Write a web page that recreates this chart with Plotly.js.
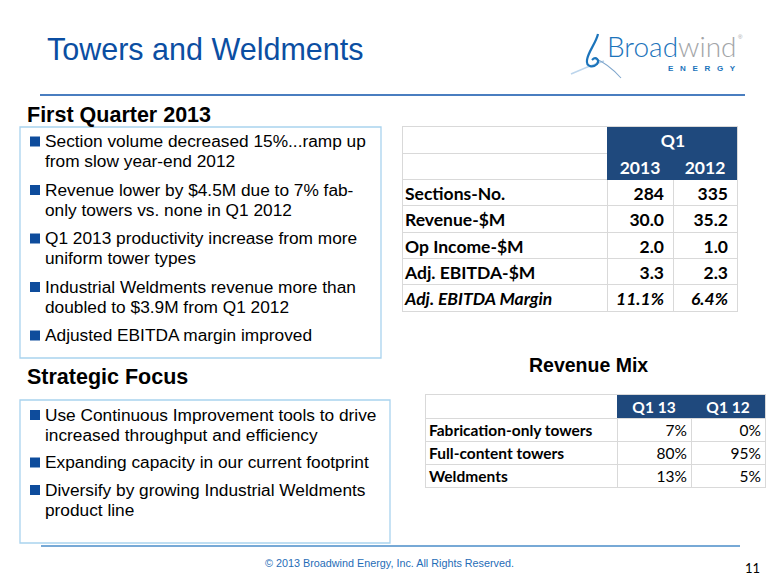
<!DOCTYPE html>
<html><head><meta charset="utf-8">
<script src="https://cdn.plot.ly/plotly-3.0.1.min.js"></script>
<style>html,body{margin:0;padding:0;background:#fff;overflow:hidden}</style>
</head><body><div id="chart" style="width:780px;height:585px"></div>
<script>
// ---------- content ----------
const slideTitle = "Towers and Weldments";
const q1Heading = "First Quarter 2013";
const q1Bullets = [
  ["Section volume decreased 15%...ramp up", "from slow year-end 2012"],
  ["Revenue lower by $4.5M due to 7% fab-", "only towers vs. none in Q1 2012"],
  ["Q1 2013 productivity increase from more", "uniform tower types"],
  ["Industrial Weldments revenue more than", "doubled to $3.9M from Q1 2012"],
  ["Adjusted EBITDA margin improved"]
];
const focusHeading = "Strategic Focus";
const focusBullets = [
  ["Use Continuous Improvement tools to drive", "increased throughput and efficiency"],
  ["Expanding capacity in our current footprint"],
  ["Diversify by growing Industrial Weldments", "product line"]
];
const kpiPeriod = "Q1";
const kpiYears = ["2013", "2012"];
const kpiMetrics = ["Sections-No.", "Revenue-$M", "Op Income-$M", "Adj. EBITDA-$M", "Adj. EBITDA Margin"];
const kpi2013 = ["284", "30.0", "2.0", "3.3", "11.1%"];
const kpi2012 = ["335", "35.2", "1.0", "2.3", "6.4%"];
const mixTitle = "Revenue Mix";
const mixPeriods = ["Q1 13", "Q1 12"];
const mixCategories = ["Fabrication-only towers", "Full-content towers", "Weldments"];
const mixQ113 = [7, 80, 13];
const mixQ112 = [0, 95, 5];
const footerText = "\u00A9 2013 Broadwind Energy, Inc. All Rights Reserved.";
const pageNumber = "11";

// ---------- helpers ----------
const W = 780, H = 585;
const X = x => x / W;
const Y = y => 1 - y / H;
const NAVY = "#1F497D";
const GRID = "#D9D9D9";
const BLUE = "#0B4EA2";
const BOXC = "#A9D3EE";
const ARIAL = "Liberation Sans, Arial, sans-serif";
const CAL = "Lato, Calibri, sans-serif";

const annotations = [];
const shapes = [];
function txt(text, x, y, size, color, opts) {
  annotations.push(Object.assign({
    text: text, x: X(x), y: Y(y), xref: "paper", yref: "paper",
    xanchor: "left", yanchor: "middle", showarrow: false,
    font: {family: ARIAL, size: size, color: color}
  }, opts || {}));
}
function bullets(list, firstBaseline, inner, outer, fs) {
  let b = firstBaseline;
  list.forEach((lines) => {
    shapes.push({type: "rect", xref: "paper", yref: "paper",
      x0: X(30), x1: X(40), y0: Y(b - 11), y1: Y(b - 1),
      fillcolor: "#0E4C9C", line: {width: 0}});
    lines.forEach((ln, j) => {
      txt(ln, 43, b - 0.35 * fs, fs, "#000");
      if (j < lines.length - 1) b += inner;
    });
    b += outer;
  });
}

// title & rules
txt(slideTitle, 45, 49, 30.5, BLUE);
shapes.push({type: "line", xref: "paper", yref: "paper", x0: X(40), x1: X(745), y0: Y(95), y1: Y(95),
  line: {color: "#4A7EC0", width: 2}});
shapes.push({type: "line", xref: "paper", yref: "paper", x0: X(41), x1: X(740), y0: Y(546), y1: Y(546),
  line: {color: "#4A8CC8", width: 1.5}});

// logo
function pth(p) {
  return p.replace(/(-?\d+\.?\d*),(-?\d+\.?\d*)/g, (m, a, b) => X(+a).toFixed(5) + "," + Y(+b).toFixed(5));
}
shapes.push({type: "path", xref: "paper", yref: "paper",
  path: pth("M 571,74 C 582,69 592,65 604,61"), line: {color: "#BCD5EC", width: 1.5}});
shapes.push({type: "path", xref: "paper", yref: "paper",
  path: pth("M 594,58 C 604,62 613,69 621,78"), line: {color: "#7FA6CC", width: 1.1}});
shapes.push({type: "path", xref: "paper", yref: "paper",
  path: pth("M 598,34 C 596,43 588,52 587,60 C 586,67 593,68 597,64 C 600,60 596,56 592,60"),
  line: {color: "#1C74BB", width: 2.2}});
txt("<span style='color:#1C74BB'>Broad</span><span style='color:#A3A5A8'>wind</span>", 605, 46, 28, "#1C74BB",
  {font: {family: "Lato, Open Sans, sans-serif", size: 28, weight: 300, color: "#1C74BB"}});
txt("\u00AE", 736, 37, 6, "#A3A5A8");
txt("E\u00A0\u00A0\u00A0N\u00A0\u00A0\u00A0E\u00A0\u00A0\u00A0R\u00A0\u00A0\u00A0G\u00A0\u00A0\u00A0Y", 666, 68, 8, "#1C74BB",
  {font: {family: ARIAL, size: 8, weight: "bold", color: "#1C74BB"}});

// headings and boxes
txt("<b>" + q1Heading + "</b>", 25, 115, 21.5, "#000");
shapes.push({type: "rect", xref: "paper", yref: "paper", x0: X(20), x1: X(381), y0: Y(127), y1: Y(358),
  line: {color: BOXC, width: 1.3}});
bullets(q1Bullets, 147.5, 20, 28.5, 17.3);

txt("<b>" + focusHeading + "</b>", 25, 377, 21.5, "#000");
shapes.push({type: "rect", xref: "paper", yref: "paper", x0: X(20), x1: X(390), y0: Y(400), y1: Y(543),
  line: {color: BOXC, width: 1.3}});
bullets(focusBullets, 421, 20, 27.5, 17.3);

txt("<b>" + mixTitle + "</b>", 588, 364.5, 19.5, "#000", {xanchor: "center"});
txt(footerText, 389, 563, 10.8, "#1F6DB7", {xanchor: "center"});
txt(pageNumber, 752, 568, 13, "#000", {xanchor: "center", font: {family: CAL, size: 13, color: "#000"}});

// ---------- tables drawn on hidden cartesian axes ----------
const traces = [];
function gridTable(ax, edges, headRows, bodyRows, headFill) {
  const nRows = headRows + bodyRows;
  const z = [];
  for (let r = 0; r < nRows; r++) {
    const row = [];
    for (let c = 0; c < edges.length - 1; c++) row.push(r < headRows && headFill[c] ? 1 : null);
    z.push(row);
  }
  traces.push({type: "heatmap", x: edges, y: Array.from({length: nRows + 1}, (_, i) => i), z: z,
    colorscale: [[0, NAVY], [1, NAVY]], zmin: 0, zmax: 1, showscale: false, hoverinfo: "skip",
    xaxis: "x" + ax, yaxis: "y" + ax});
  return nRows;
}
function textCol(ax, xs, ys, texts, pos, size, color) {
  traces.push({type: "scatter", mode: "text", x: xs, y: ys, text: texts, textposition: pos,
    textfont: {family: CAL, size: size, color: color}, cliponaxis: false, hoverinfo: "skip",
    xaxis: "x" + ax, yaxis: "y" + ax});
}
const MID = 0.61; // vertical text position inside a row

// KPI table
const kpiEdges = [0, 204, 270, 334];
const kpiHead = 2;
const kpiRowsN = gridTable("", kpiEdges, kpiHead, kpiMetrics.length, [false, true, true]);
const kpiFmt = (v, i) => i === kpiMetrics.length - 1 ? "<b><i>" + v + "</i></b>" : "<b>" + v + "</b>";
const kpiY = kpiMetrics.map((_, i) => kpiHead + i + MID);
textCol("", [kpiEdges[2]], [MID], ["<b>" + kpiPeriod + "</b>"], "middle center", 17.5, "#fff");
textCol("", [(kpiEdges[1] + kpiEdges[2]) / 2, (kpiEdges[2] + kpiEdges[3]) / 2], [1 + MID, 1 + MID],
  kpiYears.map(y => "<b>" + y + "</b>"), "middle center", 17.5, "#fff");
textCol("", kpiMetrics.map(() => kpiEdges[0] + 2), kpiY, kpiMetrics.map(kpiFmt), "middle right", 17.5, "#000");
textCol("", kpi2013.map(() => kpiEdges[2] - 9), kpiY, kpi2013.map(kpiFmt), "middle left", 17.5, "#000");
textCol("", kpi2012.map(() => kpiEdges[3] - 9), kpiY, kpi2012.map(kpiFmt), "middle left", 17.5, "#000");

// Revenue mix table
const mixEdges = [0, 191, 265, 339];
const mixHead = 1;
const mixRowsN = gridTable("2", mixEdges, mixHead, mixCategories.length, [false, true, true]);
const mixY = mixCategories.map((_, i) => mixHead + i + MID + 0.02);
textCol("2", [(mixEdges[1] + mixEdges[2]) / 2, (mixEdges[2] + mixEdges[3]) / 2], [MID, MID],
  mixPeriods.map(p => "<b>" + p + "</b>"), "middle center", 15.5, "#fff");
textCol("2", mixCategories.map(() => mixEdges[0] + 3), mixY, mixCategories.map(c => "<b>" + c + "</b>"),
  "middle right", 15.5, "#000");
textCol("2", mixQ113.map(() => mixEdges[2] - 4), mixY, mixQ113.map(v => v + "%"), "middle left", 15.5, "#000");
textCol("2", mixQ112.map(() => mixEdges[3] - 4), mixY, mixQ112.map(v => v + "%"), "middle left", 15.5, "#000");

function axX(dom, edges, anchor) {
  return {domain: dom, range: [edges[0], edges[edges.length - 1]], tickmode: "array", tickvals: edges,
    showticklabels: false, ticks: "", showgrid: true, gridcolor: GRID, gridwidth: 1, zeroline: false,
    showline: true, mirror: true, linecolor: GRID, linewidth: 1, layer: "below traces", anchor: anchor, fixedrange: true};
}
function axY(dom, n, anchor) {
  return {domain: dom, range: [n, 0], tickmode: "array", tickvals: Array.from({length: n + 1}, (_, i) => i),
    showticklabels: false, ticks: "", showgrid: true, gridcolor: GRID, gridwidth: 1, zeroline: false,
    showline: true, mirror: true, linecolor: GRID, linewidth: 1, layer: "below traces", anchor: anchor, fixedrange: true};
}

Plotly.newPlot("chart", traces, {
  width: W, height: H,
  margin: {l: 0, r: 0, t: 0, b: 0},
  paper_bgcolor: "#fff", plot_bgcolor: "rgba(0,0,0,0)",
  showlegend: false,
  xaxis: axX([X(403), X(737)], kpiEdges, "y"),
  yaxis: axY([Y(311), Y(127)], kpiRowsN, "x"),
  xaxis2: axX([X(426), X(765)], mixEdges, "y2"),
  yaxis2: axY([Y(487), Y(395)], mixRowsN, "x2"),
  shapes: shapes,
  annotations: annotations
}, {displayModeBar: false, staticPlot: true});
</script></body></html>
